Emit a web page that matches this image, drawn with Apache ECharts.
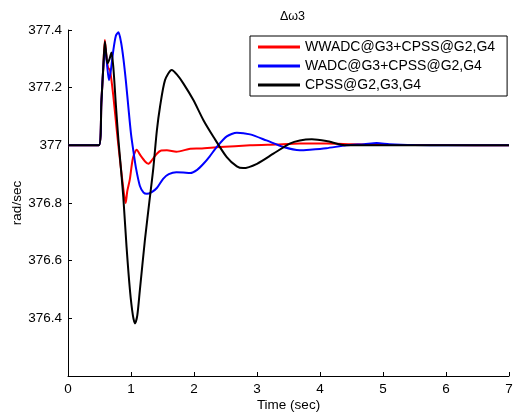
<!DOCTYPE html>
<html>
<head>
<meta charset="utf-8">
<script src="https://cdn.jsdelivr.net/npm/echarts@6/dist/echarts.min.js"></script>
<style>html,body{margin:0;padding:0;background:#fff}#c{width:514px;height:419px}</style>
</head>
<body>
<div id="c"></div>
<script>
var seriesNames = ['WWADC@G3+CPSS@G2,G4', 'WADC@G3+CPSS@G2,G4', 'CPSS@G2,G3,G4'];
var xTicks = [0, 1, 2, 3, 4, 5, 6, 7];
var yTicks = [376.2, 376.4, 376.6, 376.8, 377, 377.2, 377.4];

var redT = [0, 0.49, 0.53, 0.56, 0.585, 0.61, 0.635, 0.667, 0.72, 0.78, 0.84, 0.89, 0.916, 0.94, 0.98, 1.03, 1.09, 1.15, 1.22, 1.275, 1.33, 1.41, 1.48, 1.57, 1.72, 1.94, 2.1, 2.41, 2.89, 3.3, 3.68, 4.1, 4.5, 5, 6, 7];
var redV = [377, 377, 377.15, 377.27, 377.365, 377.31, 377.27, 377.26, 377.17, 377.04, 376.92, 376.83, 376.80, 376.84, 376.88, 376.955, 376.985, 376.965, 376.945, 376.936, 376.948, 376.971, 376.982, 376.983, 376.978, 376.988, 376.989, 376.994, 377.0, 377.003, 377.006, 377.006, 377.004, 377.002, 377.001, 377.0];

var blueT = [0, 0.49, 0.53, 0.56, 0.59, 0.62, 0.65, 0.68, 0.72, 0.76, 0.80, 0.84, 0.88, 0.92, 0.96, 1.0, 1.04, 1.08, 1.14, 1.2, 1.25, 1.33, 1.41, 1.51, 1.6, 1.72, 1.83, 1.94, 2.05, 2.15, 2.25, 2.36, 2.52, 2.68, 2.89, 3.15, 3.42, 3.68, 3.84, 4.1, 4.42, 4.7, 4.9, 5.1, 5.5, 6, 7];
var blueV = [377, 377, 377.15, 377.27, 377.34, 377.28, 377.226, 377.26, 377.33, 377.38, 377.392, 377.36, 377.30, 377.22, 377.128, 377.04, 376.977, 376.92, 376.86, 376.836, 376.832, 376.838, 376.852, 376.884, 376.9, 376.907, 376.906, 376.904, 376.915, 376.936, 376.962, 376.994, 377.031, 377.044, 377.038, 377.017, 376.994, 376.983, 376.985, 376.99, 377.0, 377.004, 377.008, 377.004, 377.001, 377.0, 377.0];

var blackT = [0, 0.49, 0.53, 0.56, 0.585, 0.605, 0.625, 0.66, 0.69, 0.72, 0.76, 0.80, 0.84, 0.878, 0.93, 0.984, 1.03, 1.063, 1.1, 1.14, 1.22, 1.30, 1.354, 1.41, 1.46, 1.54, 1.646, 1.73, 1.83, 1.99, 2.15, 2.31, 2.52, 2.68, 2.78, 3.0, 3.26, 3.52, 3.68, 3.87, 4.1, 4.42, 5, 6, 7];
var blackV = [377, 377, 377.15, 377.27, 377.36, 377.32, 377.284, 377.30, 377.322, 377.27, 377.14, 377.02, 376.92, 376.82, 376.646, 376.496, 376.41, 376.382, 376.41, 376.496, 376.67, 376.82, 376.92, 377.05, 377.133, 377.226, 377.261, 377.245, 377.215, 377.157, 377.087, 377.029, 376.959, 376.927, 376.921, 376.936, 376.971, 377.006, 377.017, 377.021, 377.015, 377.0, 377.0, 377.0, 377.0];

function pairs(t, v) { return t.map(function (x, i) { return [x, v[i]]; }); }

var chart = echarts.init(document.getElementById('c'), null, {renderer: 'canvas'});
var font = 'Liberation Sans, Arial, Helvetica, sans-serif';
var colors = ['#ff0000', '#0000ff', '#000000'];
var data = [pairs(redT, redV), pairs(blueT, blueV), pairs(blackT, blackV)];

chart.setOption({
  animation: false,
  backgroundColor: '#ffffff',
  textStyle: {fontFamily: font},
  title: {
    text: '\u0394\u03c93',
    left: 275, top: 5,
    textStyle: {fontSize: 12.5, fontWeight: 'normal', color: '#000', fontFamily: font}
  },
  legend: {
    orient: 'vertical',
    left: 250, top: 36,
    padding: [4, 12, 4, 8],
    itemGap: 5,
    itemWidth: 42,
    itemHeight: 3,
    icon: 'rect',
    borderColor: '#000', borderWidth: 1,
    backgroundColor: '#fff',
    textStyle: {fontSize: 14, color: '#000', fontFamily: font},
    data: seriesNames
  },
  grid: {left: 68, right: 5, top: 30, bottom: 43, containLabel: false, outerBoundsMode: 'none'},
  xAxis: {
    type: 'value', min: xTicks[0], max: xTicks[xTicks.length - 1], interval: 1,
    name: 'Time (sec)', nameLocation: 'middle', nameGap: 22, nameMoveOverlap: false,
    nameTextStyle: {fontSize: 13.5, color: '#000', fontFamily: font},
    axisLine: {lineStyle: {color: '#000', width: 1}},
    axisTick: {inside: true, length: 4, lineStyle: {color: '#000'}},
    axisLabel: {fontSize: 13.5, color: '#000', margin: 6, fontFamily: font},
    splitLine: {show: false}
  },
  yAxis: {
    type: 'value', min: yTicks[0], max: yTicks[yTicks.length - 1], interval: 0.2,
    name: 'rad/sec', nameLocation: 'middle', nameGap: 44, nameMoveOverlap: false,
    nameTextStyle: {fontSize: 13.5, color: '#000', fontFamily: font},
    axisLine: {show: true, lineStyle: {color: '#000', width: 1}},
    axisTick: {show: true, inside: true, length: 4, lineStyle: {color: '#000'}},
    axisLabel: {
      fontSize: 13.5, color: '#000', margin: 6, fontFamily: font,
      formatter: function (v) {
        if (Math.abs(v - yTicks[0]) < 1e-6) return '';
        return String(Math.round(v * 10) / 10);
      }
    },
    splitLine: {show: false}
  },
  series: seriesNames.map(function (n, i) {
    return {
      name: n, type: 'line', data: data[i],
      showSymbol: false, symbol: 'none',
      smooth: 0.25,
      lineStyle: {color: colors[i], width: 2},
      itemStyle: {color: colors[i]}
    };
  })
});
</script>
</body>
</html>
